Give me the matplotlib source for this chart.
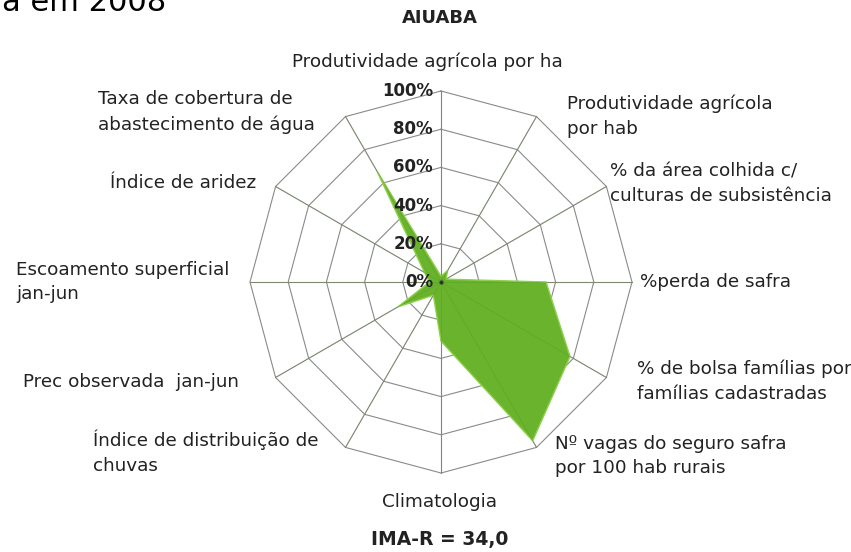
import numpy as np
import matplotlib
matplotlib.use("Agg")
import matplotlib.pyplot as plt

# ---- data ----
categories = [
    "Produtividade agrícola por ha",
    "Produtividade agrícola\npor hab",
    "% da área colhida c/\nculturas de subsistência",
    "%perda de safra",
    "% de bolsa famílias por\nfamílias cadastradas",
    "Nº vagas do seguro safra\npor 100 hab rurais",
    "Climatologia",
    "Índice de distribuição de\nchuvas",
    "Prec observada  jan-jun",
    "Escoamento superficial\njan-jun",
    "Índice de aridez",
    "Taxa de cobertura de\nabastecimento de água",
]
values = [3, 7, 3, 55, 78, 96, 31, 8, 26, 6, 10, 67]
ring_levels = [20, 40, 60, 80, 100]
tick_labels = ["0%", "20%", "40%", "60%", "80%", "100%"]
title = "AIUABA"
footer = "IMA-R = 34,0"

# ---- layout (pixels) ----
W, H = 851, 552
CX, CY, R = 441, 282, 191  # centre and 100% radius in pixels

fig = plt.figure(figsize=(W / 100, H / 100), dpi=100)
fig.patch.set_facecolor("white")
ax = fig.add_axes([0, 0, 1, 1])
scale = R / 100.0
ax.set_xlim(-CX / scale, (W - CX) / scale)
ax.set_ylim(-(H - CY) / scale, CY / scale)
ax.axis("off")

n = len(categories)
theta = np.arange(n) * 2 * np.pi / n  # clockwise from top


def to_xy(r, th):
    return np.asarray(r) * np.sin(th), np.asarray(r) * np.cos(th)


grid_color = "#8a8a8a"
# polygon rings
for lvl in ring_levels:
    x, y = to_xy(np.full(n + 1, lvl), np.append(theta, theta[0]))
    ax.plot(x, y, color=grid_color, lw=0.8, zorder=1)
# spokes
for th in theta:
    x, y = to_xy([0, 100], [th, th])
    ax.plot(x, y, color=grid_color, lw=0.8, zorder=1)

# data polygon
vx, vy = to_xy(np.append(values, values[0]), np.append(theta, theta[0]))
ax.fill(vx, vy, facecolor="#6ab42d", edgecolor="#8ed04c", lw=1.0, zorder=2)
# faint spokes visible through the fill
for th in theta:
    x, y = to_xy([0, 100], [th, th])
    ax.plot(x, y, color="#4e8a1e", lw=0.6, alpha=0.3, zorder=3)
ax.plot([0], [0], marker="o", ms=2, color="#333333", zorder=4)

# radial tick labels
for i, lab in enumerate(tick_labels):
    lvl = i * 20
    ax.text(-8 / scale, lvl, lab, ha="right", va="center",
            fontsize=12, fontweight="bold", color="#222222", zorder=5)


def fpos(px, py):
    return px / W, 1 - py / H


lab_font = dict(fontsize=13.2, color="#222222", family="DejaVu Sans", linespacing=1.47)

# label placement: (x, y of first-line centre, ha)
label_pos = [
    (427, 62, "center"),
    (567, 102, "left"),
    (610, 170, "left"),
    (640, 282, "left"),
    (637, 367, "left"),
    (555, 442, "left"),
    (440, 502, "center"),
    (93, 438, "left"),
    (23, 382, "left"),
    (16, 268, "left"),
    (110, 183, "left"),
    (98, 98, "left"),
]
for cat, (px, py, ha) in zip(categories, label_pos):
    nlines = cat.count("\n") + 1
    yc = py + (nlines - 1) * 14  # line step ~28px
    fx, fy = fpos(px, yc)
    fig.text(fx, fy, cat, ha=ha, va="center", **lab_font)

fx, fy = fpos(440, 18)
fig.text(fx, fy, title, ha="center", va="center", fontsize=13,
         fontweight="bold", color="#222222")
fx, fy = fpos(440, 540)
fig.text(fx, fy, footer, ha="center", va="center", fontsize=13.5,
         fontweight="bold", color="#222222")

# cut-off caption at top-left
fx, fy = fpos(2, 11)
fig.text(fx, fy, "a em 2008", ha="left", va="baseline", fontsize=22,
         color="black")

fig.savefig("out.png", dpi=100, facecolor="white")
